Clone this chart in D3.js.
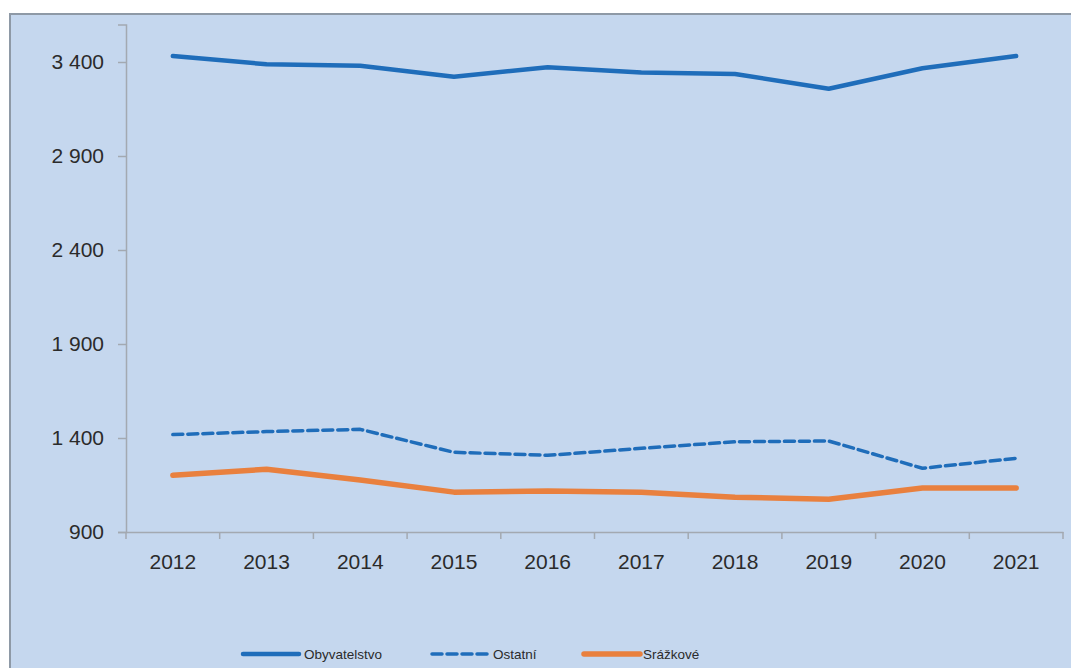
<!DOCTYPE html>
<html lang="cs">
<head>
<meta charset="utf-8">
<script src="https://d3js.org/d3.v7.min.js"></script>
<style>
  body { margin: 0; background: #fff; }
  svg { display: block; font-family: "Liberation Sans", Arial, sans-serif; }
</style>
</head>
<body>
<script>
// data
var years = ["2012", "2013", "2014", "2015", "2016", "2017", "2018", "2019", "2020", "2021"];
var obyvatelstvo = [3432, 3388, 3380, 3322, 3372, 3344, 3336, 3258, 3367, 3432];
var ostatni = [1418, 1434, 1446, 1324, 1308, 1345, 1380, 1384, 1239, 1292];
var srazkove = [1202, 1234, 1177, 1112, 1118, 1112, 1085, 1074, 1134, 1134];
var yTicks = [900, 1400, 1900, 2400, 2900, 3400];

var series = [
  { name: "Obyvatelstvo", values: obyvatelstvo, color: "#1F6DBA", width: 4.5, dash: null },
  { name: "Ostatní", values: ostatni, color: "#1F6DBA", width: 3.5, dash: "10,5" },
  { name: "Srážkové", values: srazkove, color: "#E9803E", width: 5.5, dash: null }
];

var W = 1071, H = 668;
var svg = d3.select("body").append("svg")
  .attr("width", W)
  .attr("height", H);

// chart area background
svg.append("rect")
  .attr("x", 10).attr("y", 14)
  .attr("width", W + 10).attr("height", H + 10)
  .attr("fill", "#C5D7EE")
  .attr("stroke", "#8E99A6")
  .attr("stroke-width", 2);

var left = 126, right = 1063, top = 25, bottom = 532;

var x = d3.scaleBand()
  .domain(years)
  .range([left, right]);

var y = d3.scaleLinear()
  .domain([900, 3600])
  .range([bottom, bottom - (3600 - 900) / 500 * 94]);

var axisColor = "#A3A9B1";
var textColor = "#2B2B2B";

// y axis
var yAxis = svg.append("g")
  .attr("transform", "translate(" + left + ",0)")
  .call(d3.axisLeft(y).tickValues(yTicks).tickSize(8).tickPadding(14)
    .tickFormat(function (d) { return d3.format(",")(d).replace(",", " "); }));
yAxis.select(".domain").attr("stroke", axisColor).attr("stroke-width", 1.5);
yAxis.selectAll(".tick line").attr("stroke", axisColor).attr("stroke-width", 1.5);
yAxis.selectAll(".tick text")
  .attr("fill", textColor)
  .style("font-size", "21px");

// x axis
var xAxis = svg.append("g")
  .attr("transform", "translate(0," + bottom + ")")
  .call(d3.axisBottom(x).tickSize(0).tickPadding(22));
xAxis.select(".domain").attr("stroke", axisColor).attr("stroke-width", 1.5);
xAxis.selectAll(".tick text")
  .attr("fill", textColor)
  .style("font-size", "21px");

// category separators
svg.append("g")
  .selectAll("line")
  .data(years.concat(["end"]))
  .enter()
  .append("line")
  .attr("x1", function (d, i) { return left + i * x.step(); })
  .attr("x2", function (d, i) { return left + i * x.step(); })
  .attr("y1", bottom)
  .attr("y2", bottom + 7)
  .attr("stroke", axisColor)
  .attr("stroke-width", 1.5);

var line = d3.line()
  .x(function (d, i) { return x(years[i]) + x.bandwidth() / 2; })
  .y(function (d) { return y(d); });

series.forEach(function (s) {
  svg.append("path")
    .datum(s.values)
    .attr("d", line)
    .attr("fill", "none")
    .attr("stroke", s.color)
    .attr("stroke-width", s.width)
    .attr("stroke-linecap", "round")
    .attr("stroke-linejoin", "round")
    .attr("stroke-dasharray", s.dash);
});

// legend
var legendX = [243, 432, 584];
var legend = svg.append("g");
series.forEach(function (s, i) {
  var g = legend.append("g").attr("transform", "translate(" + legendX[i] + ",654)");
  g.append("line")
    .attr("x1", 0).attr("x2", 56)
    .attr("stroke", s.color)
    .attr("stroke-width", s.width)
    .attr("stroke-linecap", "round")
    .attr("stroke-dasharray", s.dash);
  g.append("text")
    .attr("x", i == 2 ? 59 : 61)
    .attr("dy", "0.36em")
    .attr("fill", textColor)
    .style("font-size", "13.5px")
    .text(s.name);
});
</script>
</body>
</html>
